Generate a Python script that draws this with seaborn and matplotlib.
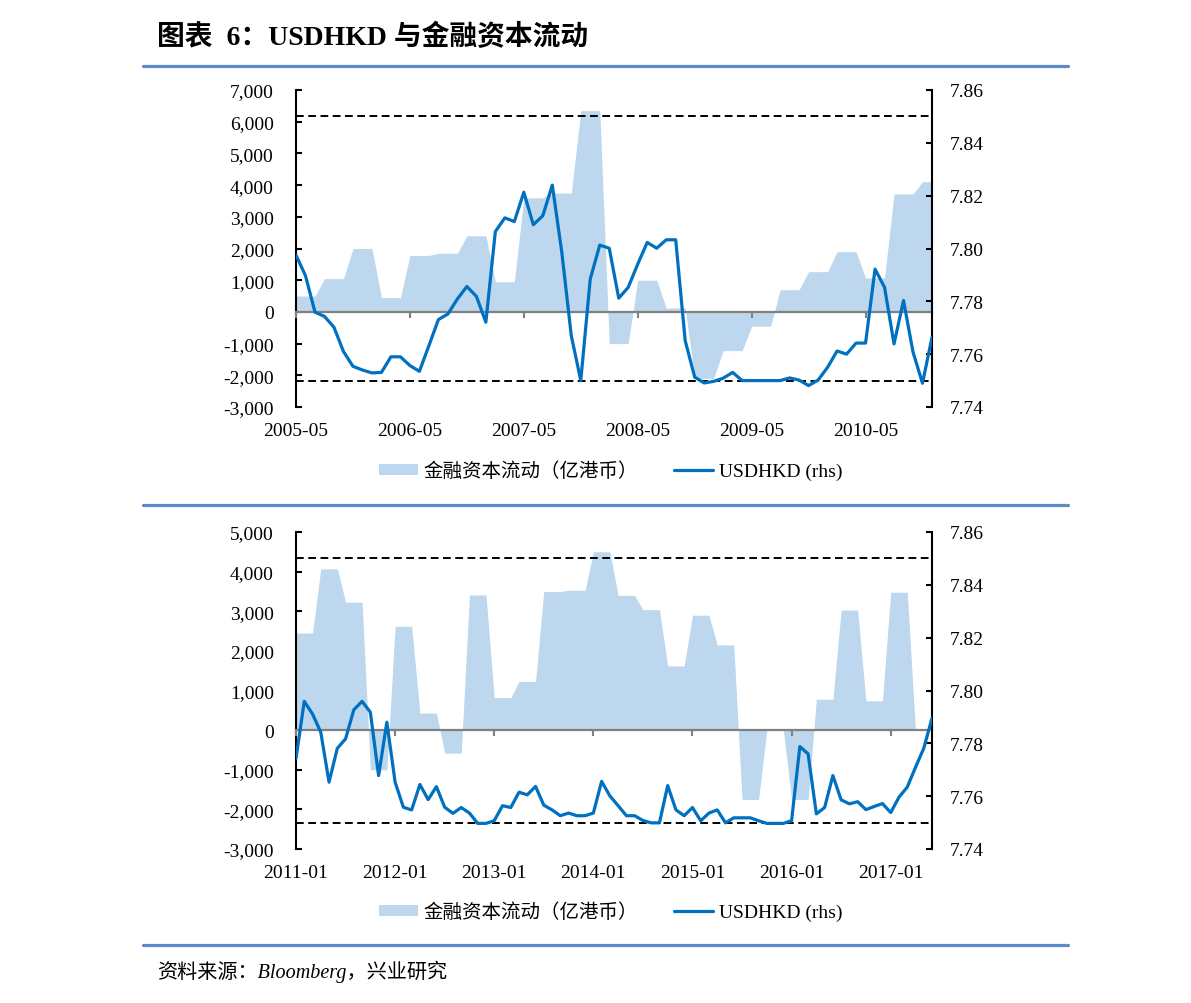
import numpy as np
import pandas as pd
import matplotlib
matplotlib.use("Agg")
import matplotlib.pyplot as plt
import seaborn as sns
from matplotlib.patches import Patch
from matplotlib.lines import Line2D
from matplotlib.ticker import FuncFormatter

# ---------------- data ----------------
top_months = [str(p) for p in pd.period_range("2005-05", "2010-12", freq="M")]
top_area = [500, 500, 500, 1050, 1050, 1050, 2000, 2000, 2000, 450, 450, 450,
            1780, 1780, 1780, 1850, 1850, 1850, 2400, 2400, 2400, 950, 950, 950,
            3600, 3600, 3600, 3750, 3750, 3750, 6350, 6350, 6350, -1000, -1000, -1000,
            1000, 1000, 1000, 120, 120, 120, -2100, -2100, -2100, -1220, -1220, -1220,
            -450, -450, -450, 700, 700, 700, 1270, 1270, 1270, 1900, 1900, 1900,
            1070, 1070, 1070, 3720, 3720, 3720, 4110, 4110]
top_fx = [7.7975, 7.7897, 7.7759, 7.7743, 7.7702, 7.7610, 7.7554, 7.7540,
          7.7529, 7.7531, 7.7590, 7.7590, 7.7557, 7.7535, 7.7632, 7.7731, 7.7752, 7.7809, 7.7856, 7.7819,
          7.7721, 7.8064, 7.8116, 7.8102, 7.8213, 7.8090, 7.8124, 7.8240, 7.7986, 7.7670, 7.7500, 7.7885,
          7.8013, 7.8001, 7.7812, 7.7853, 7.7941, 7.8023, 7.8001, 7.8033, 7.8033, 7.7651, 7.7513, 7.7491,
          7.7497, 7.7509, 7.7531, 7.7500, 7.7500, 7.7500, 7.7500, 7.7500, 7.7510, 7.7502, 7.7481, 7.7502,
          7.7550, 7.7612, 7.7600, 7.7642, 7.7642, 7.7922, 7.7853, 7.7639, 7.7803, 7.7608, 7.7490, 7.7664]
top_tick_labels = ["2005-05", "2006-05", "2007-05", "2008-05", "2009-05", "2010-05"]

bot_months = [str(p) for p in pd.period_range("2011-01", "2017-06", freq="M")]
bot_area = [2450, 2450, 2450, 4070, 4070, 4070, 3230, 3230, 3230, -1000, -1000, -1000,
            2620, 2620, 2620, 430, 430, 430, -580, -580, -580, 3410, 3410, 3410,
            820, 820, 820, 1230, 1230, 1230, 3500, 3500, 3500, 3530, 3530, 3530,
            4500, 4500, 4500, 3400, 3400, 3400, 3040, 3040, 3040, 1620, 1620, 1620,
            2900, 2900, 2900, 2150, 2150, 2150, -1750, -1750, -1750, 0, 0, 0,
            -1750, -1750, -1750, 780, 780, 780, 3030, 3030, 3030, 740, 740, 740,
            3480, 3480, 3480, 0, 0, 0]
bot_fx = [7.7743, 7.7959, 7.7911, 7.7842, 7.7653, 7.7781, 7.7817, 7.7927, 7.7959, 7.7918, 7.7678, 7.7880,
          7.7653, 7.7558, 7.7548, 7.7644, 7.7587, 7.7636, 7.7558, 7.7535, 7.7557, 7.7536, 7.7497, 7.7497,
          7.7507, 7.7564, 7.7557, 7.7615, 7.7605, 7.7637, 7.7566, 7.7548, 7.7526, 7.7536, 7.7526, 7.7526,
          7.7536, 7.7656, 7.7601, 7.7564, 7.7526, 7.7526, 7.7508, 7.7499, 7.7499, 7.7640, 7.7548, 7.7526,
          7.7557, 7.7507, 7.7536, 7.7548, 7.7499, 7.7518, 7.7518, 7.7518, 7.7507, 7.7497, 7.7497, 7.7497,
          7.7507, 7.7788, 7.7760, 7.7533, 7.7557, 7.7678, 7.7586, 7.7571, 7.7579, 7.7549, 7.7561, 7.7572,
          7.7538, 7.7596, 7.7634, 7.7709, 7.7781, 7.7895]
bot_tick_labels = ["2011-01", "2012-01", "2013-01", "2014-01", "2015-01", "2016-01", "2017-01"]

band = [7.75, 7.85]
area_label = "金融资本流动（亿港币）"
line_label = "USDHKD (rhs)"
title = "图表  6：USDHKD 与金融资本流动"
source = "资料来源：Bloomberg，兴业研究"

# ---------------- style ----------------
sns.set_theme(style="white")
plt.rcParams["font.family"] = ["Liberation Serif", "Noto Sans CJK SC"]
plt.rcParams["axes.unicode_minus"] = False
plt.rcParams["text.color"] = "black"

AREA_C = "#BDD7EE"
LINE_C = "#0070C0"
SEP_C = "#5B8BC9"
W, H = 1191, 1004
fig = plt.figure(figsize=(W / 100, H / 100), dpi=100)


def fx(px):
    return px / W


def fy(py):
    return 1 - py / H


def panel(top_px, months, area, rate, ylim, lticks, tick_labels, legend_y):
    left, right = 296, 932
    ax = fig.add_axes([fx(left), fy(top_px + 317), (right - left) / W, 317 / H])
    ax2 = ax.twinx()
    df = pd.DataFrame({"idx": np.arange(len(months)), "month": months,
                       "area": area, "fx": rate})
    ax.fill_between(df["idx"], 0, df["area"], color=AREA_C, lw=0, zorder=1)
    sns.lineplot(data=df, x="idx", y="fx", ax=ax2, color=LINE_C, lw=2.3, zorder=4)
    for b in band:
        ax2.axhline(b, color="black", lw=1.4, ls=(0, (4, 2.3)), zorder=3)

    n = len(months)
    ax.set_xlim(0, n - 1)
    ax2.set_xlim(0, n - 1)
    ax.set_ylim(*ylim)
    ax2.set_ylim(7.74, 7.86)
    ax.set_yticks(lticks)
    ax.yaxis.set_major_formatter(FuncFormatter(lambda v, p: f"{v:,.0f}"))
    ax2.set_yticks(np.round(np.arange(7.74, 7.861, 0.02), 2))
    ax2.yaxis.set_major_formatter(FuncFormatter(lambda v, p: f"{v:.2f}"))

    tick_pos = [months.index(t) for t in tick_labels]
    ax.set_xticks(tick_pos, tick_labels)
    ax.tick_params(axis="x", length=0, pad=11, labelsize=14, colors="black")
    ax.tick_params(axis="y", direction="in", length=4, width=1.5, pad=16,
                   labelsize=14, colors="black", left=True)
    ax2.tick_params(axis="y", direction="in", length=4, width=1.5, pad=12.5,
                    labelsize=14, colors="black", right=True)
    ax.set_xlabel("")
    ax.set_ylabel("")
    ax2.set_xlabel("")
    ax2.set_ylabel("")

    for s in ["top", "bottom", "right"]:
        ax.spines[s].set_visible(False)
    ax.spines["left"].set_color("black")
    ax.spines["left"].set_linewidth(1.5)
    for s in ["top", "bottom", "left"]:
        ax2.spines[s].set_visible(False)
    ax2.spines["right"].set_color("black")
    ax2.spines["right"].set_linewidth(1.5)

    zero_frac = (0 - ylim[0]) / (ylim[1] - ylim[0])
    sec = ax.secondary_xaxis(zero_frac)
    sec.set_xticks(tick_pos)
    sec.tick_params(axis="x", direction="out", length=4, width=1.5, color="#808080",
                    labelbottom=False, labeltop=False)
    for s in sec.spines.values():
        s.set_color("#808080")
        s.set_linewidth(1.6)
    sec.set_zorder(3)

    handles = [Patch(facecolor=AREA_C, edgecolor="none"),
               Line2D([0], [0], color=LINE_C, lw=2.3)]
    leg = fig.legend(handles, [area_label, line_label], loc="center",
                     bbox_to_anchor=(fx(610.5), fy(legend_y)), ncol=2, frameon=False,
                     fontsize=14, handlelength=2.0, handletextpad=0.3,
                     columnspacing=1.85, handleheight=0.5)
    for t in leg.get_texts():
        t.set_color("black")
    return ax, ax2


panel(91, top_months, top_area, top_fx, (-3000, 7000),
      np.arange(-3000, 7001, 1000), top_tick_labels, 472)
panel(533, bot_months, bot_area, bot_fx, (-3000, 5000),
      np.arange(-3000, 5001, 1000), bot_tick_labels, 913)

# separators
for ypx in [67, 506, 946]:
    fig.add_artist(Line2D([fx(143), fx(1068)], [fy(ypx), fy(ypx)],
                          color=SEP_C, lw=2.3))

fig.text(fx(157), fy(37), title, fontsize=20, fontweight="bold",
         ha="left", va="center", color="black")
fig.text(fx(157), fy(972), source, fontsize=14.5, style="italic",
         ha="left", va="center", color="black")

fig.savefig("out.png", dpi=100)
